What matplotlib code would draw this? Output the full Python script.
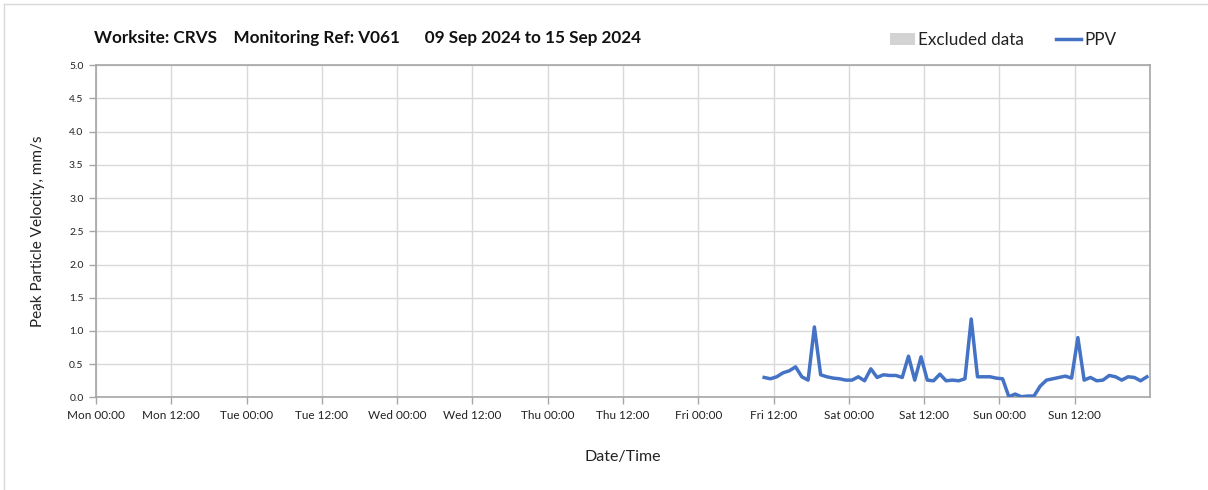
import matplotlib.pyplot as plt
from matplotlib.lines import Line2D
from matplotlib.patches import Patch
import pandas as pd

plt.rcParams['font.family'] = ['Lato', 'DejaVu Sans']

# hourly PPV readings, first at Fri 13 Sep 10:30
start = '2024-09-13 10:30'
ppv = [0.30, 0.28, 0.31, 0.37, 0.40, 0.46, 0.31, 0.26, 1.06, 0.34,
       0.31, 0.29, 0.28, 0.26, 0.26, 0.31, 0.25, 0.43, 0.30, 0.34,
       0.33, 0.33, 0.30, 0.62, 0.26, 0.61, 0.26, 0.25, 0.35, 0.25,
       0.26, 0.25, 0.28, 1.18, 0.31, 0.31, 0.31, 0.29, 0.28, 0.01,
       0.05, 0.01, 0.02, 0.02, 0.17, 0.26, 0.28, 0.30, 0.32, 0.29,
       0.90, 0.26, 0.30, 0.25, 0.26, 0.33, 0.31, 0.26, 0.31, 0.30,
       0.25, 0.31]
times = pd.date_range(start, periods=len(ppv), freq='h')

x_start = pd.Timestamp('2024-09-09 00:00')
x_end = pd.Timestamp('2024-09-16 00:00')
y_ticks = [0.0, 0.5, 1.0, 1.5, 2.0, 2.5, 3.0, 3.5, 4.0, 4.5, 5.0]

title = 'Worksite: CRVS    Monitoring Ref: V061      09 Sep 2024 to 15 Sep 2024'

spine_col = '#a6a6a6'
grid_col = '#d9d9d9'
text_col = '#222222'

fig = plt.figure(figsize=(12.08, 4.90), dpi=100)
ax = fig.add_axes([0.0795, 0.189, 0.8725, 0.678])

ax.plot(times, ppv, color='#4472c4', lw=2.5, zorder=3)

ax.set_xlim(x_start, x_end)
ax.set_ylim(0, 5)
ax.set_yticks(y_ticks)
ax.set_yticklabels(['%.1f' % v for v in y_ticks])

ticks = pd.date_range(x_start, x_end - pd.Timedelta(hours=12), freq='12h')
ax.set_xticks(ticks)
ax.set_xticklabels([t.strftime('%a %H:%M') for t in ticks])

ax.grid(True, color=grid_col, lw=1.0, zorder=0)
for s in ax.spines.values():
    s.set_color(spine_col)
    s.set_linewidth(1.2)
ax.tick_params(axis='both', colors=spine_col, labelcolor=text_col, length=5, width=1)
ax.tick_params(axis='x', labelsize=8.5, pad=4)
ax.tick_params(axis='y', labelsize=7.5, pad=4)

ax.set_ylabel('Peak Particle Velocity, mm/s', fontsize=11, color=text_col, labelpad=17)
ax.set_xlabel('Date/Time', fontsize=11.5, color=text_col, labelpad=21)

fig.text(0.078, 0.922, title, fontsize=12.3, fontweight='bold', color='#111111',
         va='center', ha='left')

handles = [Patch(facecolor='#d3d3d3', edgecolor='none'),
           Line2D([0], [0], color='#4472c4', lw=2.5)]
fig.legend(handles, ['Excluded data', 'PPV'], loc='center', bbox_to_anchor=(0.8305, 0.918),
           ncol=2, frameon=False, fontsize=12.3, handlelength=1.45, handletextpad=0.2,
           columnspacing=1.9, handleheight=0.7, labelcolor=text_col)

# light frame on the top and left edges
fig.add_artist(Line2D([0.003, 0.003], [0, 0.992], color='#d9d9d9', lw=1, transform=fig.transFigure))
fig.add_artist(Line2D([0.003, 1], [0.992, 0.992], color='#d9d9d9', lw=1, transform=fig.transFigure))

fig.savefig('out.png', dpi=100)
